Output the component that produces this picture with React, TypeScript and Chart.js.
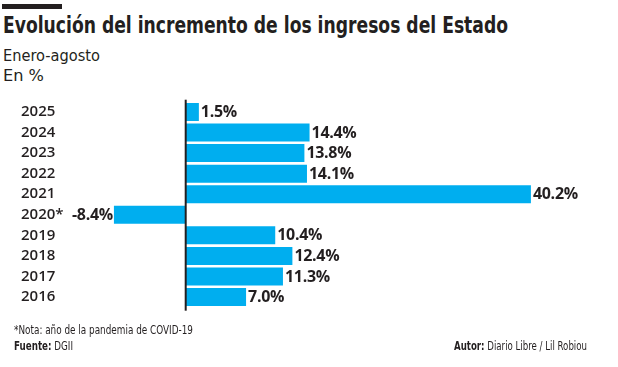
import React, { useEffect, useLayoutEffect, useRef } from 'react';
import { Chart, registerables } from 'chart.js';

Chart.register(...registerables);

// ---- data ----
const years = ['2025', '2024', '2023', '2022', '2021', '2020*', '2019', '2018', '2017', '2016'];
const growth = [1.5, 14.4, 13.8, 14.1, 40.2, -8.4, 10.4, 12.4, 11.3, 7.0];
const titleText = 'Evolución del incremento de los ingresos del Estado';
const subtitleText = 'Enero-agosto';
const unitText = 'En %';
const noteText = '*Nota: año de la pandemia de COVID-19';
const sourceLabel = 'Fuente:';
const sourceText = ' DGII';
const authorLabel = 'Autor:';
const authorText = ' Diario Libre / Lil Robiou';

const INK = '#231f20';
const BAR = '#00aeef';
const CONDENSED = "'Liberation Sans Narrow', 'DejaVu Sans Condensed', 'Liberation Sans', sans-serif";

type FitProps = {
  left: number;
  top: number;
  width: number;
  size: number;
  weight?: number;
  children: React.ReactNode;
};

function FitText({ left, top, width, size, weight = 400, children }: FitProps) {
  const ref = useRef<HTMLDivElement>(null);
  useLayoutEffect(() => {
    const el = ref.current;
    if (!el) return;
    el.style.transform = 'none';
    const w = el.getBoundingClientRect().width;
    if (w > 0) el.style.transform = `scaleX(${width / w})`;
  });
  return (
    <div
      ref={ref}
      style={{
        position: 'absolute',
        left,
        top,
        whiteSpace: 'nowrap',
        fontFamily: CONDENSED,
        fontSize: size,
        fontWeight: weight,
        lineHeight: `${size}px`,
        color: INK,
        transformOrigin: '0 0',
      }}
    >
      {children}
    </div>
  );
}

const zeroLine = {
  id: 'zeroLine',
  afterDatasetsDraw(chart: any) {
    const { ctx, chartArea } = chart;
    const x = chart.scales.x.getPixelForValue(0) - 0.3;
    ctx.save();
    ctx.strokeStyle = INK;
    ctx.lineWidth = 2;
    ctx.beginPath();
    ctx.moveTo(x, chartArea.top - 2);
    ctx.lineTo(x, chartArea.bottom + 3.4);
    ctx.stroke();
    ctx.restore();
  },
};

const valueLabels = {
  id: 'valueLabels',
  afterDatasetsDraw(chart: any) {
    const { ctx } = chart;
    const meta = chart.getDatasetMeta(0);
    const data = chart.data.datasets[0].data as number[];
    ctx.save();
    ctx.font = "700 16px 'Open Sans'";
    ctx.fillStyle = INK;
    ctx.textBaseline = 'middle';
    (ctx as any).letterSpacing = '-0.3px';
    meta.data.forEach((bar: any, i: number) => {
      const v = data[i];
      const text = v.toFixed(1) + '%';
      if (v >= 0) {
        ctx.textAlign = 'left';
        ctx.fillText(text, bar.x + 2, bar.y + 0.5);
      } else {
        ctx.textAlign = 'right';
        ctx.fillText(text, bar.x - 1, bar.y + 0.5);
      }
    });
    ctx.restore();
  },
};

export default function App() {
  const canvasRef = useRef<HTMLCanvasElement>(null);

  useEffect(() => {
    const canvas = canvasRef.current;
    if (!canvas) return;
    const chart = new Chart(canvas, {
      type: 'bar',
      data: {
        labels: years,
        datasets: [
          {
            data: growth,
            backgroundColor: BAR,
            borderWidth: 0,
            barPercentage: 0.875,
            categoryPercentage: 1,
          },
        ],
      },
      options: {
        indexAxis: 'y',
        responsive: false,
        animation: false,
        devicePixelRatio: 1,
        layout: { padding: { left: 21, right: 3, top: 101.7, bottom: 59.7 } },
        plugins: {
          legend: { display: false },
          tooltip: { enabled: false },
          title: { display: false },
        },
        scales: {
          x: { min: -10, max: 50, display: false },
          y: {
            grid: { display: false },
            border: { display: false },
            ticks: {
              color: INK,
              font: { family: "'Open Sans'", size: 15, weight: '600' },
              crossAlign: 'far',
              padding: 0,
              autoSkip: false,
            },
            afterFit: (scale: any) => {
              scale.width = 79.2;
            },
          },
        },
      },
      plugins: [zeroLine, valueLabels],
    } as any);
    return () => chart.destroy();
  }, []);

  return (
    <div
      style={{
        position: 'fixed',
        left: 0,
        top: 0,
        width: 618,
        height: 367,
        background: '#ffffff',
        overflow: 'hidden',
      }}
    >
      <div style={{ position: 'absolute', left: 2, top: 4, width: 60, height: 5, background: INK }} />
      <FitText left={3} top={14} width={505} size={23} weight={700}>
        {titleText}
      </FitText>
      <FitText left={3} top={47.5} width={97} size={16}>
        {subtitleText}
      </FitText>
      <FitText left={3} top={67.5} width={41} size={16.5}>
        {unitText}
      </FitText>
      <canvas
        ref={canvasRef}
        width={618}
        height={367}
        style={{ position: 'absolute', left: 0, top: 0, width: 618, height: 367 }}
      />
      <FitText left={14} top={324} width={179} size={12}>
        {noteText}
      </FitText>
      <FitText left={14} top={340} width={59} size={12}>
        <b>{sourceLabel}</b>
        {sourceText}
      </FitText>
      <FitText left={454} top={340} width={133} size={12}>
        <b>{authorLabel}</b>
        {authorText}
      </FitText>
    </div>
  );
}
